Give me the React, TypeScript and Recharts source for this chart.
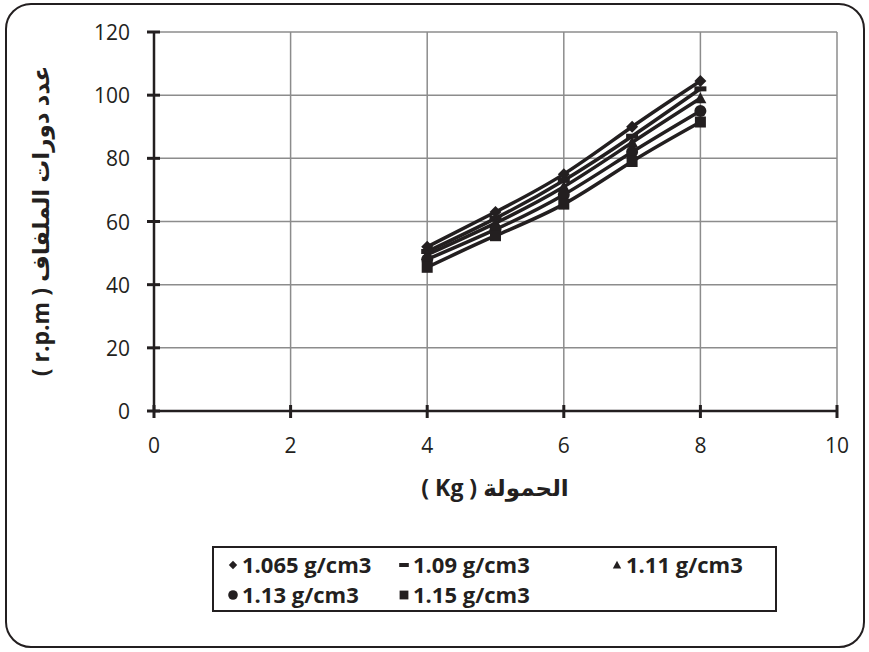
import React from 'react';
import {
  LineChart,
  Line,
  XAxis,
  YAxis,
  CartesianGrid,
  Legend,
} from 'recharts';

// load (Kg) on x, spinner speed (r.p.m) on y, one series per density
const LOAD = [4, 5, 6, 7, 8];
const RPM_1065 = [52, 63, 75, 90, 104.5];
const RPM_109 = [50.5, 61, 73, 87, 102];
const RPM_111 = [49.5, 59.5, 71, 85, 99];
const RPM_113 = [48, 57.5, 68.5, 82, 95];
const RPM_115 = [45.5, 55.5, 65.5, 79, 91.5];

const SERIES = [
  { key: 'd1065', name: '1.065 g/cm3', values: RPM_1065, shape: 'diamond' },
  { key: 'd109', name: '1.09 g/cm3', values: RPM_109, shape: 'dash' },
  { key: 'd111', name: '1.11 g/cm3', values: RPM_111, shape: 'triangle' },
  { key: 'd113', name: '1.13 g/cm3', values: RPM_113, shape: 'circle' },
  { key: 'd115', name: '1.15 g/cm3', values: RPM_115, shape: 'square' },
];

const X_TICKS = [0, 2, 4, 6, 8, 10];
const Y_TICKS = [0, 20, 40, 60, 80, 100, 120];

const X_TITLE = 'الحمولة ( Kg )';
const Y_TITLE = 'عدد دورات الملفاف ( r.p.m )';

const data = LOAD.map((load, i) => {
  const row: Record<string, number> = { load };
  SERIES.forEach((s) => {
    row[s.key] = s.values[i];
  });
  return row;
});

const W = 869;
const H = 652;
const FONT = '"Open Sans", "DejaVu Sans", sans-serif';
const INK = '#231f20';

const Marker = ({ shape, cx, cy, s = 1 }: { shape: string; cx: number; cy: number; s?: number }) => {
  switch (shape) {
    case 'diamond':
      return <path d={`M${cx},${cy - 6 * s}L${cx + 6 * s},${cy}L${cx},${cy + 6 * s}L${cx - 6 * s},${cy}Z`} fill={INK} />;
    case 'dash':
      return <rect x={cx - 6 * s} y={cy - 2.5 * s} width={12 * s} height={5 * s} fill={INK} />;
    case 'triangle':
      return <path d={`M${cx},${cy - 6 * s}L${cx + 6 * s},${cy + 5 * s}L${cx - 6 * s},${cy + 5 * s}Z`} fill={INK} />;
    case 'circle':
      return <circle cx={cx} cy={cy} r={6 * s} fill={INK} />;
    default:
      return <rect x={cx - 5.5 * s} y={cy - 5.5 * s} width={11 * s} height={11 * s} fill={INK} />;
  }
};

const YTick = ({ x, y, payload }: any) => (
  <g>
    <line x1={x - 7} x2={x + 6} y1={y} y2={y} stroke={INK} strokeWidth={3} />
    <text x={x - 24} y={y + 8} textAnchor="end" fill={INK} fontSize={21} fontFamily={FONT}>
      {payload.value}
    </text>
  </g>
);

const XTick = ({ x, y, payload }: any) => (
  <g>
    <line x1={x} x2={x} y1={y - 6} y2={y + 7} stroke={INK} strokeWidth={3} />
    <text x={x} y={y + 42} textAnchor="middle" fill={INK} fontSize={21} fontFamily={FONT}>
      {payload.value}
    </text>
  </g>
);

const LEGEND_ROWS = [
  [SERIES[0], SERIES[1], SERIES[2]],
  [SERIES[3], SERIES[4]],
];
const COL_WIDTHS = [171, 213, 160];

const LegendBox = () => (
  <div
    style={{
      border: `2px solid ${INK}`,
      boxSizing: 'border-box',
      width: 565,
      height: 66,
      padding: '1px 0 0 12px',
      fontFamily: FONT,
      fontWeight: 700,
      fontSize: 22,
      color: INK,
    }}
  >
    {LEGEND_ROWS.map((row, r) => (
      <div key={r} style={{ display: 'flex', height: 30, alignItems: 'center' }}>
        {row.map((s, c) => (
          <div key={s.key} style={{ width: COL_WIDTHS[c], display: 'flex', alignItems: 'center', whiteSpace: 'nowrap' }}>
            <svg width={14} height={16} style={{ marginRight: 2 }}>
              <Marker shape={s.shape} cx={7} cy={9} s={s.shape === 'diamond' || s.shape === 'triangle' ? 0.7 : 0.8} />
            </svg>
            {s.name}
          </div>
        ))}
      </div>
    ))}
  </div>
);

export default function App() {
  return (
    <div style={{ position: 'absolute', left: 0, top: 0, width: W, height: H, background: '#fff' }}>
      <div
        style={{
          position: 'absolute',
          left: 5,
          top: 3,
          width: 860,
          height: 645,
          border: `2px solid ${INK}`,
          borderRadius: 26,
          boxSizing: 'border-box',
        }}
      />
      <LineChart
        width={W}
        height={H}
        data={data}
        margin={{ top: 32, right: 32, bottom: 201, left: 54 }}
        style={{ position: 'absolute', left: 0, top: 0 }}
      >
        <CartesianGrid stroke="#8c8c8c" strokeWidth={1.5} />
        <XAxis
          type="number"
          dataKey="load"
          domain={[0, 10]}
          ticks={X_TICKS}
          tickSize={0}
          tickMargin={0}
          tickLine={false}
          height={40}
          axisLine={{ stroke: INK, strokeWidth: 2.5 }}
          tick={<XTick />}
          interval={0}
        />
        <YAxis
          type="number"
          domain={[0, 120]}
          ticks={Y_TICKS}
          tickSize={0}
          tickMargin={0}
          tickLine={false}
          width={100}
          axisLine={{ stroke: INK, strokeWidth: 2.5 }}
          tick={<YTick />}
          interval={0}
        />
        <Legend
          layout="horizontal"
          verticalAlign="middle"
          align="center"
          content={<LegendBox />}
          wrapperStyle={{ left: 212, top: 546, width: 565, height: 66 }}
        />
        {SERIES.map((s) => (
          <Line
            key={s.key}
            type="natural"
            dataKey={s.key}
            name={s.name}
            stroke={INK}
            strokeWidth={3.5}
            isAnimationActive={false}
            dot={(p: any) => <Marker key={p.index} shape={s.shape} cx={p.cx} cy={p.cy} />}
            activeDot={false}
          />
        ))}
      </LineChart>
      <div
        dir="rtl"
        style={{
          position: 'absolute',
          left: 495,
          top: 487,
          transform: 'translate(-50%, -50%)',
          fontFamily: FONT,
          fontWeight: 700,
          fontSize: 23,
          color: INK,
          whiteSpace: 'nowrap',
        }}
      >
        {X_TITLE}
      </div>
      <div
        dir="rtl"
        style={{
          position: 'absolute',
          left: 40,
          top: 221,
          transform: 'translate(-50%, -50%) rotate(-90deg)',
          fontFamily: FONT,
          fontWeight: 700,
          fontSize: 23,
          color: INK,
          whiteSpace: 'nowrap',
        }}
      >
        {Y_TITLE}
      </div>
    </div>
  );
}
